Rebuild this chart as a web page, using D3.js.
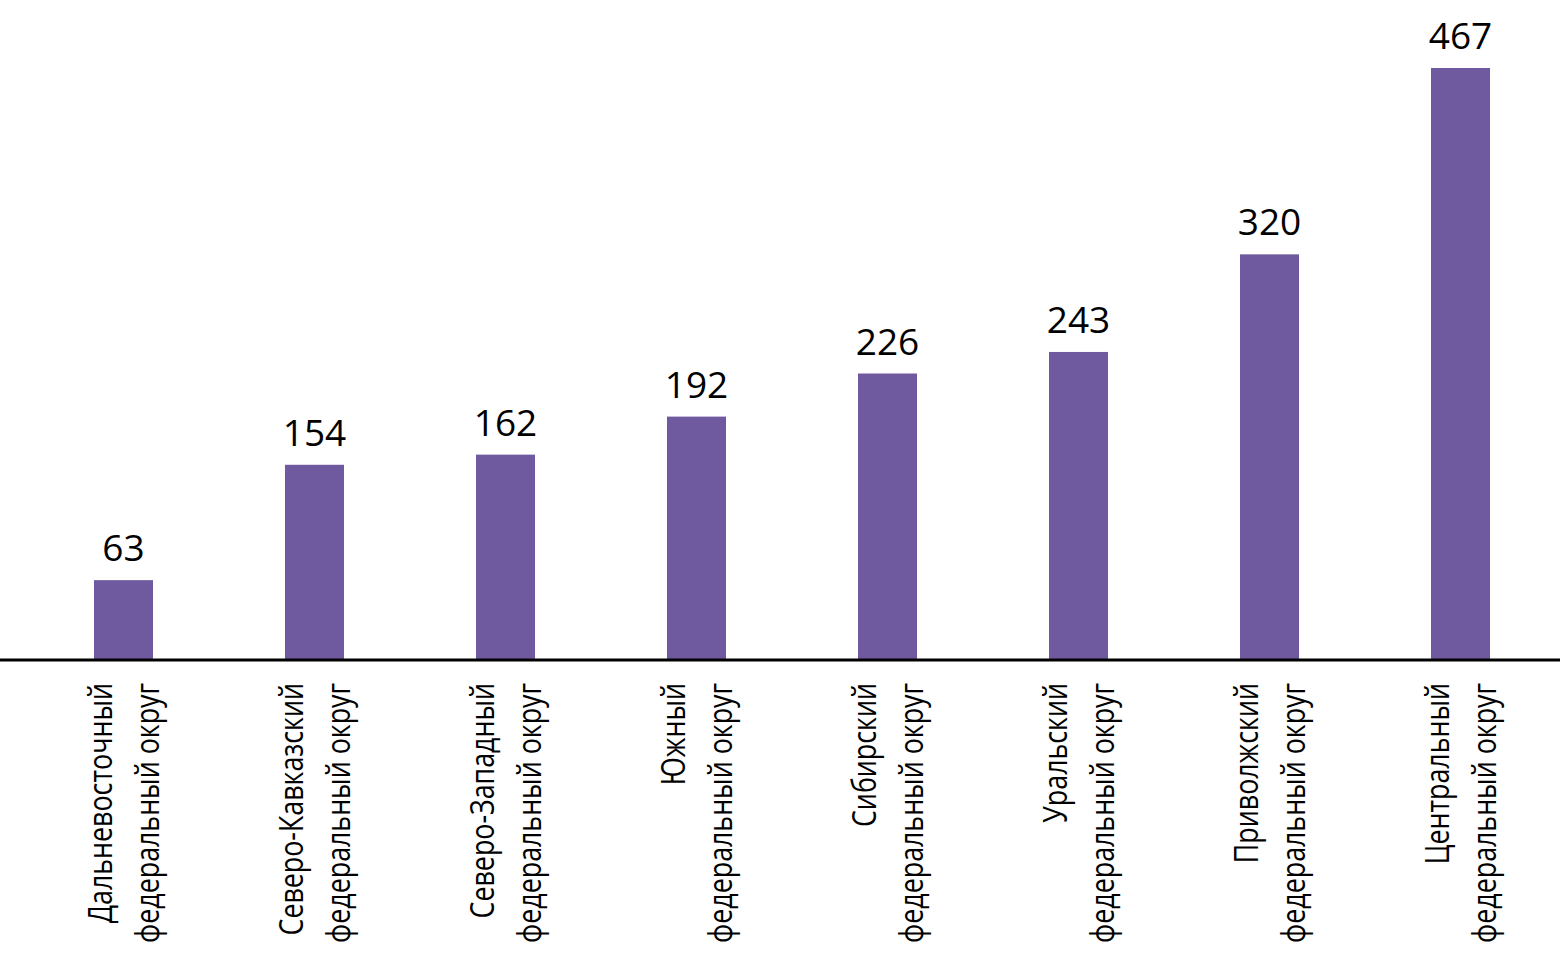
<!DOCTYPE html>
<html>
<head>
<meta charset="utf-8">
<script src="https://cdn.jsdelivr.net/npm/d3@7"></script>
<style>
  body { margin: 0; background: #fff; }
  .value { font-family: "Open Sans", sans-serif; font-size: 37px; fill: #000; }
  .cat { font-family: "Open Sans", sans-serif; font-size: 33px; fill: #000; }
</style>
</head>
<body>
<div id="chart"></div>
<script>
const regionNames = [
  ['Дальневосточный', 'федеральный округ'],
  ['Северо-Кавказский', 'федеральный округ'],
  ['Северо-Западный', 'федеральный округ'],
  ['Южный', 'федеральный округ'],
  ['Сибирский', 'федеральный округ'],
  ['Уральский', 'федеральный округ'],
  ['Приволжский', 'федеральный округ'],
  ['Центральный', 'федеральный округ']
];
const values = [63, 154, 162, 192, 226, 243, 320, 467];

const w = 1560, h = 969;
const baseY = 660;
const labelTop = 683;
// the reference uses a condensed face: "федеральный округ" is ~260px long
const secondLineLength = 260;

const svg = d3.select('#chart')
  .append('svg')
  .attr('width', w)
  .attr('height', h);

const scaleX = d3.scaleBand()
  .domain(d3.range(values.length))
  .range([28, 1556])
  .paddingInner(0.691)
  .paddingOuter(0.3455);

const scaleY = d3.scaleLinear()
  .domain([0, d3.max(values)])
  .range([baseY, 68]);

svg.selectAll('rect.bar')
  .data(values)
  .join('rect')
  .attr('class', 'bar')
  .attr('x', (d, i) => scaleX(i))
  .attr('y', d => scaleY(d))
  .attr('width', scaleX.bandwidth())
  .attr('height', d => baseY - scaleY(d))
  .attr('fill', '#6f5a9f');

svg.selectAll('text.value')
  .data(values)
  .join('text')
  .attr('class', 'value')
  .attr('x', (d, i) => scaleX(i) + scaleX.bandwidth() / 2)
  .attr('y', d => scaleY(d) - 19)
  .attr('text-anchor', 'middle')
  .text(d => d);

svg.append('line')
  .attr('x1', 0).attr('x2', w)
  .attr('y1', baseY).attr('y2', baseY)
  .attr('stroke', '#000')
  .attr('stroke-width', 3);

// category labels, rotated, aligned just under the axis
const labels = svg.selectAll('g.label')
  .data(regionNames)
  .join('g')
  .attr('class', 'label')
  .attr('transform', (d, i) => `translate(${scaleX(i) + scaleX.bandwidth() / 2}, ${labelTop}) rotate(-90)`);

labels.each(function (lines) {
  const t = d3.select(this).append('text')
    .attr('class', 'cat')
    .attr('text-anchor', 'end');
  const spans = lines.map((line, j) =>
    t.append('tspan')
      .attr('x', 0)
      .attr('y', j === 0 ? -12 : 35)
      .text(line));
  // squeeze along the reading direction to mimic the condensed font
  const k = secondLineLength / spans[1].node().getComputedTextLength();
  t.attr('transform', `scale(${k}, 1)`);
});
</script>
</body>
</html>
